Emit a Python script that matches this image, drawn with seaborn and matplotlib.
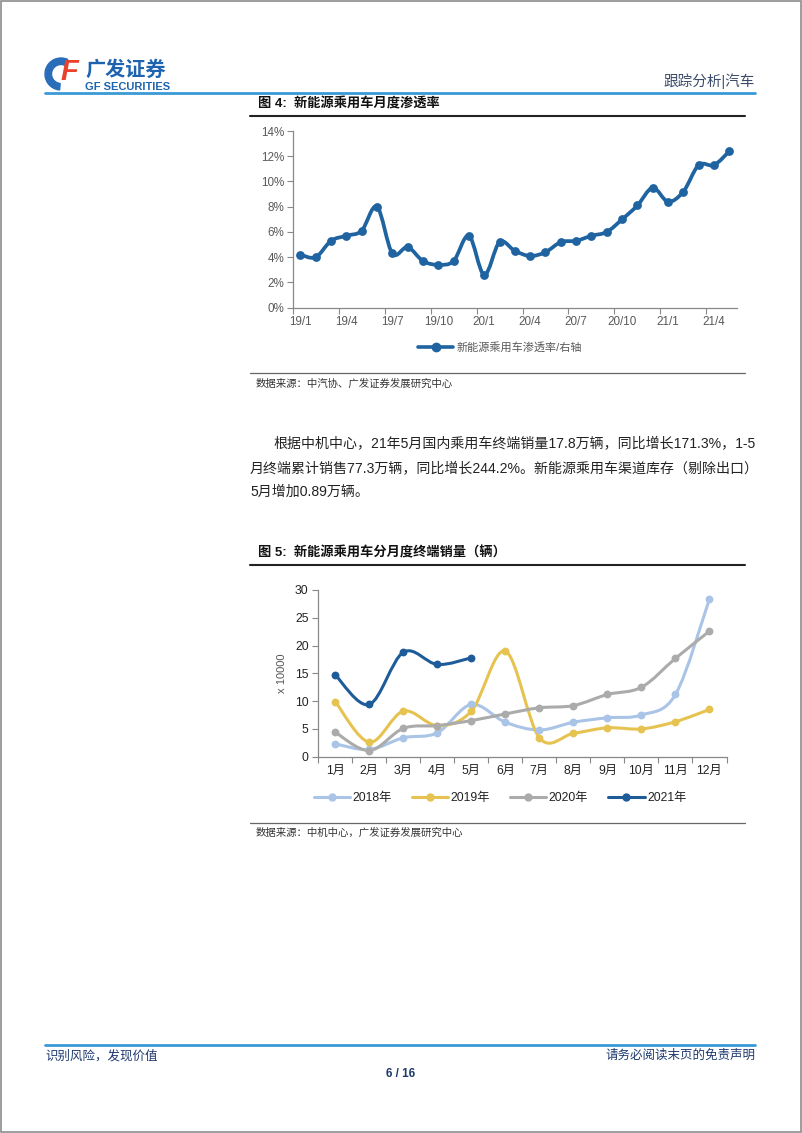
import matplotlib
matplotlib.use("Agg")
import numpy as np
import pandas as pd
import matplotlib.pyplot as plt
import seaborn as sns
from matplotlib.path import Path
from matplotlib.patches import PathPatch, Wedge, Rectangle
from matplotlib.lines import Line2D
from matplotlib.ticker import FixedLocator, FuncFormatter, NullFormatter

# ---- data: chart 4 (monthly NEV penetration, %) ----
months_1 = ['19/1', '19/2', '19/3', '19/4', '19/5', '19/6', '19/7', '19/8', '19/9', '19/10',
            '19/11', '19/12', '20/1', '20/2', '20/3', '20/4', '20/5', '20/6', '20/7', '20/8',
            '20/9', '20/10', '20/11', '20/12', '21/1', '21/2', '21/3', '21/4', '21/5']
rate = [4.2, 4.0, 5.3, 5.7, 6.1, 8.0, 4.3, 4.8, 3.7, 3.4,
        3.7, 5.7, 2.6, 5.2, 4.5, 4.1, 4.4, 5.2, 5.3, 5.7,
        6.0, 7.0, 8.1, 9.5, 8.4, 9.2, 11.3, 11.3, 12.4]
rate_label = '新能源乘用车渗透率/右轴'

# ---- data: chart 5 (monthly NEV retail sales, x10000) ----
months_2 = ['1月', '2月', '3月', '4月', '5月', '6月', '7月', '8月', '9月', '10月', '11月', '12月']
sales_2018 = [2.3, 1.3, 3.4, 4.3, 9.4, 6.2, 4.8, 6.2, 7.0, 7.5, 11.2, 28.4]
sales_2019 = [9.9, 2.6, 8.2, 5.6, 8.2, 19.0, 3.4, 4.2, 5.2, 5.0, 6.3, 8.5]
sales_2020 = [4.4, 1.1, 5.1, 5.6, 6.5, 7.7, 8.8, 9.2, 11.2, 12.5, 17.7, 22.6]
sales_2021 = [14.7, 9.4, 18.8, 16.6, 17.8]
years = ['2018年', '2019年', '2020年', '2021年']
year_colors = ['#A9C4E6', '#E6C350', '#ABABAB', '#1D5C99']

W, H = 802, 1133
sns.set_theme(style="white")
plt.rcParams['font.family'] = ['Liberation Sans', 'Noto Sans CJK SC', 'DejaVu Sans']
plt.rcParams['axes.unicode_minus'] = False


def rect(l, t, r, b):
    return [l / W, 1 - b / H, (r - l) / W, (b - t) / H]


def smooth_path(x, y):
    # Excel-style smoothed line: cubic bezier through every point
    n = len(x)
    verts = [(x[0], y[0])]
    codes = [Path.MOVETO]
    for i in range(n - 1):
        a = max(i - 1, 0)
        d = min(i + 2, n - 1)
        c1 = (x[i] + (x[i + 1] - x[a]) / 6, y[i] + (y[i + 1] - y[a]) / 6)
        c2 = (x[i + 1] - (x[d] - x[i]) / 6, y[i + 1] - (y[d] - y[i]) / 6)
        verts += [c1, c2, (x[i + 1], y[i + 1])]
        codes += [Path.CURVE4] * 3
    return Path(verts, codes)


fig = plt.figure(figsize=(W / 100, H / 100), dpi=100)

# ---- page furniture ----
page = fig.add_axes([0, 0, 1, 1])
page.set_xlim(0, W)
page.set_ylim(H, 0)
page.axis('off')
page.add_patch(Rectangle((1, 1), W - 2.5, H - 2.5, fill=False, ec='#8C8C8C', lw=1.2))

# logo
page.add_patch(Wedge((61, 74), 16, 95, 295, width=6.5, color='#2A6DB8'))
page.text(69, 72, 'F', color='#E8412C', fontsize=21, fontweight='bold', style='italic',
          ha='center', va='center')
page.text(85, 70, '广发证券', color='#1E63AE', fontsize=14.5, fontweight='bold', va='center')
page.text(85, 86.5, 'GF SECURITIES', color='#1E63AE', fontsize=8, fontweight='bold', va='center')
page.text(755, 81, '跟踪分析|汽车', color='#3A4A6A', fontsize=10.5, ha='right', va='center')
page.plot([45, 755], [92.5, 92.5], color='#3A9AD6', lw=2)

# chart 4 frame
page.text(258, 104, '图 4:  新能源乘用车月度渗透率', fontsize=9.5, fontweight='bold', va='center',
          color='#111111')
page.plot([250, 745], [116, 116], color='#222222', lw=1.5)
page.plot([250, 745], [373, 373], color='#666666', lw=0.9)
page.text(256, 384, '数据来源：中汽协、广发证券发展研究中心', fontsize=7.5, va='center', color='#333333')

# body text
body = ['根据中机中心，21年5月国内乘用车终端销量17.8万辆，同比增长171.3%，1-5',
        '月终端累计销售77.3万辆，同比增长244.2%。新能源乘用车渠道库存（剔除出口）',
        '5月增加0.89万辆。']
page.text(273, 443, body[0], fontsize=10.05, va='center', color='#222222')
page.text(250, 468, body[1], fontsize=10.05, va='center', color='#222222')
page.text(250, 492, body[2], fontsize=10.05, va='center', color='#222222')

# chart 5 frame
page.text(258, 553, '图 5:  新能源乘用车分月度终端销量（辆）', fontsize=9.5, fontweight='bold',
          va='center', color='#111111')
page.plot([250, 745], [565, 565], color='#222222', lw=1.5)
page.plot([250, 745], [823, 823], color='#666666', lw=0.9)
page.text(256, 833, '数据来源：中机中心，广发证券发展研究中心', fontsize=7.5, va='center', color='#333333')

# footer
page.plot([45, 755], [1045, 1045], color='#3A9AD6', lw=2)
page.text(45, 1056, '识别风险，发现价值', fontsize=9, va='center', color='#1F3A6E')
page.text(755, 1056, '请务必阅读末页的免责声明', fontsize=9, va='center', ha='right', color='#1F3A6E')
page.text(401, 1074, '6 / 16', fontsize=8.5, fontweight='bold', va='center', ha='center',
          color='#1F3A6E')

# ---- chart 4 ----
ax1 = fig.add_axes(rect(292.7, 131, 737, 307.7))
ax1.patch.set_alpha(0)
df1 = pd.DataFrame({'idx': np.arange(len(months_1)), 'month': months_1, 'rate': rate})
c1 = '#1F63A1'
ax1.add_patch(PathPatch(smooth_path(df1['idx'].values, df1['rate'].values),
                        fill=False, ec=c1, lw=2.7, capstyle='round', joinstyle='round'))
sns.scatterplot(data=df1, x='idx', y='rate', ax=ax1, color=c1, s=40, linewidth=0, zorder=3,
                legend=False)
ax1.set_xlim(-0.5, len(months_1) - 0.5)
ax1.set_ylim(0, 14)
ax1.set_yticks(np.arange(0, 15, 2))
ax1.yaxis.set_major_formatter(FuncFormatter(lambda v, p: f'{v:.0f}%'))
ax1.xaxis.set_major_locator(FixedLocator(np.arange(-0.5, 27, 3)))
ax1.xaxis.set_major_formatter(NullFormatter())
ax1.xaxis.set_minor_locator(FixedLocator(np.arange(0, len(months_1), 3)))
ax1.set_xticklabels([months_1[i] for i in range(0, len(months_1), 3)], minor=True)
ax1.tick_params(axis='x', which='major', length=4, width=0.8, color='#888888', direction='out',
                bottom=True)
ax1.tick_params(axis='x', which='minor', length=0, labelsize=8.4, labelcolor='#595959', pad=6)
ax1.tick_params(axis='y', length=4, width=0.8, color='#888888', direction='out', left=True,
                labelsize=8.4, labelcolor='#595959', pad=2)
ax1.set_xlabel('')
ax1.set_ylabel('')
for s in ['top', 'right']:
    ax1.spines[s].set_visible(False)
for s in ['left', 'bottom']:
    ax1.spines[s].set_color('#888888')
    ax1.spines[s].set_linewidth(0.9)
h1 = Line2D([], [], color=c1, lw=2.6, marker='o', markersize=6)
fig.legend([h1], [rate_label], loc='center', bbox_to_anchor=(500 / W, 1 - 347 / H), frameon=False,
           fontsize=8, labelcolor='#595959', handlelength=3.2, handletextpad=0.3)

# ---- chart 5 ----
ax2 = fig.add_axes(rect(318.3, 590, 726.5, 756.7))
ax2.patch.set_alpha(0)
series = [sales_2018, sales_2019, sales_2020, sales_2021]
rows = []
for yr, vals in zip(years, series):
    for i, v in enumerate(vals):
        rows.append({'year': yr, 'idx': i, 'month': months_2[i], 'sales': v})
df2 = pd.DataFrame(rows)
for yr, col in zip(years, year_colors):
    d = df2[df2['year'] == yr]
    ax2.add_patch(PathPatch(smooth_path(d['idx'].values, d['sales'].values),
                            fill=False, ec=col, lw=2.2, capstyle='round', joinstyle='round'))
    sns.scatterplot(data=d, x='idx', y='sales', ax=ax2, color=col, s=32, linewidth=0, zorder=3,
                    legend=False)
ax2.set_xlim(-0.5, len(months_2) - 0.5)
ax2.set_ylim(0, 30)
ax2.set_yticks(np.arange(0, 31, 5))
ax2.xaxis.set_major_locator(FixedLocator(np.arange(-0.5, len(months_2), 1)))
ax2.xaxis.set_major_formatter(NullFormatter())
ax2.xaxis.set_minor_locator(FixedLocator(np.arange(len(months_2))))
ax2.set_xticklabels(months_2, minor=True)
ax2.tick_params(axis='x', which='major', length=4, width=0.8, color='#888888', direction='out',
                bottom=True)
ax2.tick_params(axis='x', which='minor', length=0, labelsize=8.8, labelcolor='#222222', pad=6)
ax2.tick_params(axis='y', length=4, width=0.8, color='#888888', direction='out', left=True,
                labelsize=8.8, labelcolor='#222222', pad=3)
ax2.set_xlabel('')
ax2.set_ylabel('x 10000', fontsize=8, color='#555555', labelpad=6)
for s in ['top', 'right']:
    ax2.spines[s].set_visible(False)
for s in ['left', 'bottom']:
    ax2.spines[s].set_color('#888888')
    ax2.spines[s].set_linewidth(0.9)
handles = [Line2D([], [], color=c, lw=2.2, marker='o', markersize=5) for c in year_colors]
fig.legend(handles, years, loc='center', bbox_to_anchor=(500 / W, 1 - 798 / H), ncol=4,
           frameon=False, fontsize=8.8, labelcolor='#222222', handlelength=3.0,
           handletextpad=0.2, columnspacing=1.6)

fig.savefig('out.png', dpi=100)
